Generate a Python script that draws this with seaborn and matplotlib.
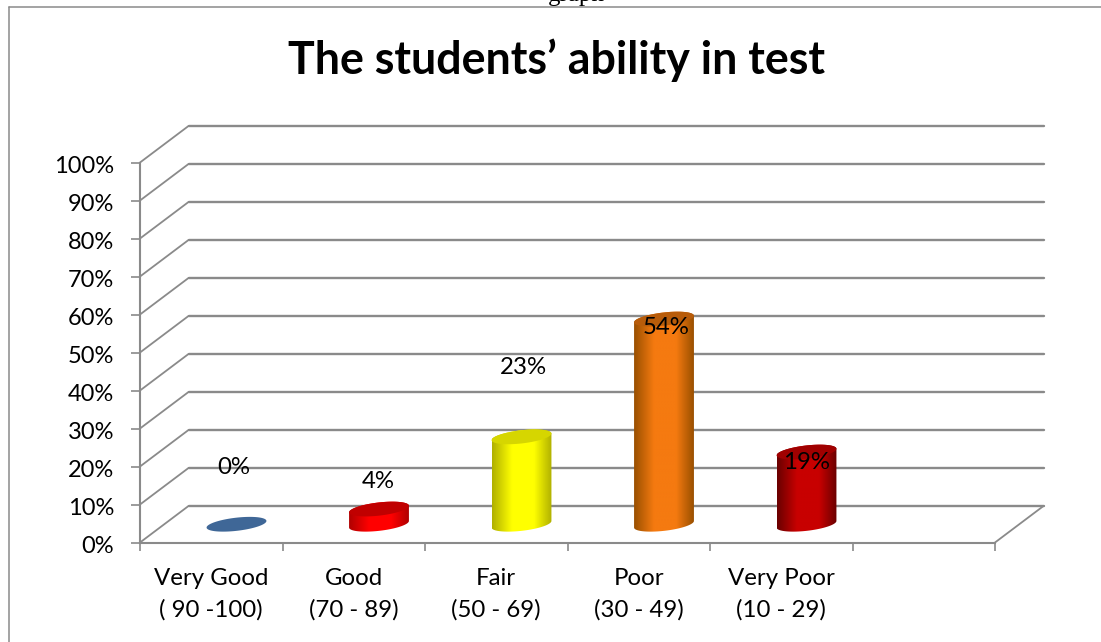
import numpy as np
import matplotlib
matplotlib.use("Agg")
import matplotlib.pyplot as plt
from matplotlib.lines import Line2D
from matplotlib.path import Path
from matplotlib.patches import PathPatch
from matplotlib.colors import LinearSegmentedColormap
from matplotlib.transforms import Affine2D
import seaborn as sns

categories = ["Very Good\n( 90 -100)", "Good\n(70 - 89)", "Fair\n(50 - 69)",
              "Poor\n(30 - 49)", "Very Poor\n(10 - 29)"]
values = [0, 4, 23, 54, 19]
y_ticks = list(range(0, 101, 10))
title = "The students\u2019 ability in test"

body_colors = ["#3F6797", "#FF0000", "#FFFF00", "#F57A10", "#C80000"]
edge_colors = ["#3F6797", "#B00000", "#B0B000", "#9A5000", "#6A0000"]
top_colors = ["#3F6797", "#C00000", "#D6D600", "#B85C0A", "#A00000"]
label_heights = [15.0, 11.3, 41.3, 51.8, 16.3]
label_nudges = [-3, -1, 2, 2, 0]

W, H = 1101, 642
GRID = "#8A8A8A"
sns.set_theme(style="white")
plt.rcParams["font.family"] = ["Lato", "DejaVu Sans"]

fig = plt.figure(figsize=(W / 100, H / 100), dpi=100, facecolor="white")
L, R, B, T = 140, 995, 542.5, 162.5
ax = fig.add_axes([L / W, 1 - B / H, (R - L) / W, (B - T) / H])
ax.set_facecolor("none")

sns.barplot(x=categories, y=values, hue=categories, palette=body_colors,
            width=0.42, saturation=1, legend=False, dodge=False, ax=ax, zorder=3)
ax.set_xlim(-0.5, 5.5)
ax.set_ylim(0, 100)
ax.set_xlabel("")
ax.set_ylabel("")

DX, DY = 48.5, 36.5
back = ax.transData + Affine2D().translate(DX, DY)
mid = ax.transData + Affine2D().translate(DX / 2 + 1, DY / 2)
xpx, ypx = (R - L) / 6, (B - T) / 100

# walls: gridlines run across the back and down the side
for v in y_ticks:
    ax.plot([-0.5, 5.5], [v, v], transform=back, color=GRID, lw=1.7, clip_on=False, zorder=1)
    ax.plot([-0.5, -0.5 + DX / xpx], [v, v + DY / ypx], color=GRID, lw=1.3,
            clip_on=False, zorder=1)
ax.plot([5.5, 5.5 + DX / xpx], [0, DY / ypx], color=GRID, lw=1.3, clip_on=False, zorder=1)

# cylinders built from the bars seaborn drew
bars = sorted([p for p in ax.patches], key=lambda p: p.get_x())
t_low = np.linspace(np.pi, 2 * np.pi, 60)
t_up = np.linspace(0, np.pi, 60)
TILT, MINOR = 3.3, 6.6


def rim(bar, t, level):
    cx = bar.get_x() + bar.get_width() / 2
    xs = cx + bar.get_width() / 2 * np.cos(t)
    ys = level + (TILT * np.cos(t) + MINOR * np.sin(t)) / ypx
    return np.column_stack([xs, ys])


for i, bar in enumerate(bars):
    h = bar.get_height()
    bar.set_visible(False)
    if h > 0:
        outline = np.vstack([rim(bar, t_low, 0), rim(bar, t_up, h)])
        path = Path(np.vstack([outline, outline[:1]]), closed=True)
        cmap = LinearSegmentedColormap.from_list(
            "c", [edge_colors[i], body_colors[i], body_colors[i], edge_colors[i]])
        grad = np.interp(np.linspace(0, 1, 200), [0, 0.45, 0.6, 1], [0, 0.45, 0.55, 1])[None, :]
        x0 = bar.get_x()
        im = ax.imshow(grad, cmap=cmap, aspect="auto", zorder=3, vmin=0, vmax=1,
                       extent=(x0, x0 + bar.get_width(), -10, h + 10))
        im.set_transform(mid)
        im.set_clip_path(path, transform=mid)
        im.set_clip_box(None)
    top = rim(bar, np.linspace(0, 2 * np.pi, 120), h)
    ax.add_patch(PathPatch(Path(top, closed=False), facecolor=top_colors[i], edgecolor="none",
                           transform=mid, clip_on=False, zorder=4))
    ax.text(i + label_nudges[i] / xpx, label_heights[i], f"{values[i]}%", transform=mid,
            ha="center", va="center", fontsize=17.3, color="black", zorder=5)

ax.set_xlim(-0.5, 5.5)
ax.set_ylim(0, 100)

# axes furniture
sns.despine(ax=ax, top=True, right=True)
for s in ("left", "bottom"):
    ax.spines[s].set_color(GRID)
    ax.spines[s].set_linewidth(1.5)
ax.set_yticks(y_ticks, [f"{v}%" for v in y_ticks])
ax.set_xticks(np.arange(-0.5, 6, 1), [""] * 7)
ax.set_xticks(np.arange(5), categories, minor=True)
ax.tick_params(axis="y", which="major", left=True, length=6.5, width=1.2, color=GRID,
               labelsize=17, pad=12, labelcolor="black")
ax.tick_params(axis="x", which="major", bottom=True, length=6, width=1.2, color=GRID)
ax.tick_params(axis="x", which="minor", bottom=False, length=0, labelsize=17.3, pad=18.5,
               labelcolor="black")
for lab in ax.get_xticklabels(minor=True):
    lab.set_linespacing(1.57)
for lab in ax.get_yticklabels():
    lab.set_transform(lab.get_transform() + Affine2D().translate(0, -2))

fig.text(557 / W, 1 - 60 / H, title, ha="center", va="center", fontsize=32.2,
         fontweight="bold", color="black")

# chart frame and the cut-off caption above it
fig.add_artist(Line2D([8.5 / W, 8.5 / W], [0, 1 - 6.5 / H], color=GRID, lw=1.1))
fig.add_artist(Line2D([8.5 / W, 1], [1 - 6.5 / H, 1 - 6.5 / H], color=GRID, lw=1.1))
fig.text(548 / W, 1 - 0.5 / H, "graph", ha="left", va="baseline", fontsize=18,
         family="Liberation Serif", color="black")

fig.savefig("out.png", dpi=100)
